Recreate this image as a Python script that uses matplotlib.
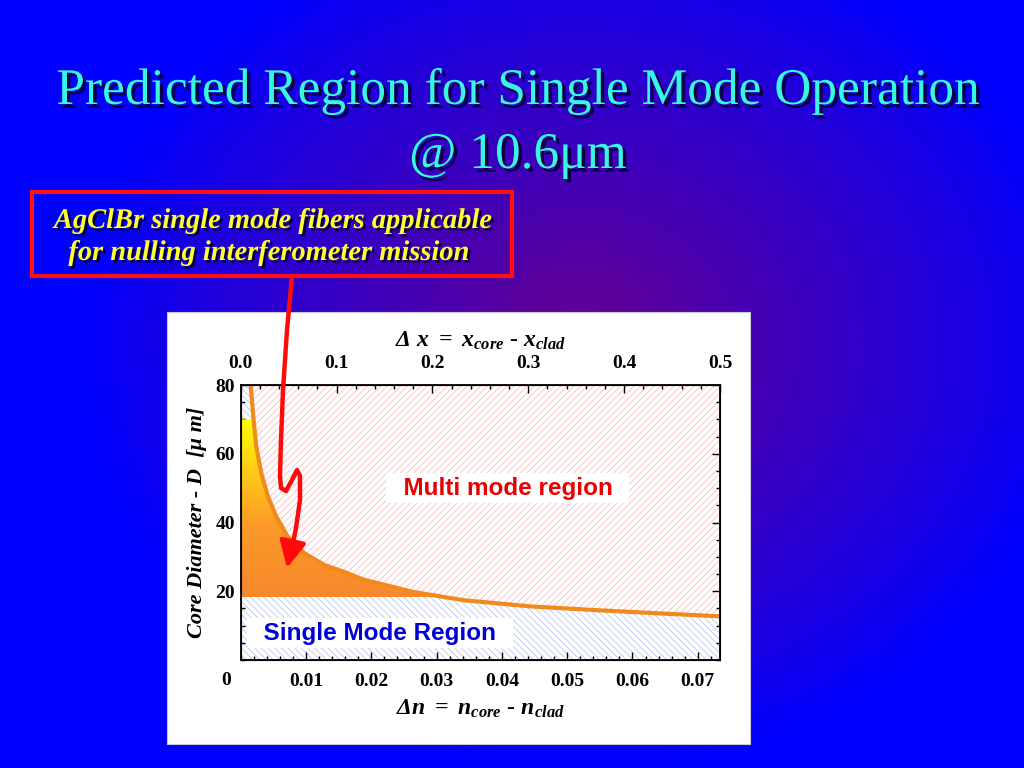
import matplotlib as mpl
import matplotlib.pyplot as plt
import matplotlib.patheffects as pe
from matplotlib.patches import Rectangle
from matplotlib.colors import LinearSegmentedColormap
from matplotlib.ticker import MultipleLocator
import numpy as np

plt.rcParams['font.family'] = ['Liberation Serif', 'DejaVu Serif']
plt.rcParams['mathtext.fontset'] = 'custom'
plt.rcParams['mathtext.rm'] = 'Liberation Serif:italic:bold'
plt.rcParams['mathtext.it'] = 'Liberation Serif:italic:bold'
plt.rcParams['mathtext.bf'] = 'Liberation Serif:italic:bold'
plt.rcParams['hatch.linewidth'] = 0.5

# single mode cutoff curve (delta n vs core diameter in um)
delta_n = [0.00153, 0.00188, 0.00239, 0.00316, 0.00418, 0.00545, 0.00724, 0.0098,
           0.01286, 0.0159, 0.01878, 0.02643, 0.0341, 0.0443, 0.0545, 0.0647, 0.0734]
diameter = [80, 71.8, 62, 54.3, 47.5, 41.7, 35.8, 31.0,
            27.6, 25.6, 23.4, 19.8, 17.4, 15.6, 14.5, 13.5, 12.7]

# highlighted (applicable) region limits
fill_top = 70
fill_bottom = 18.2

dn_max = 0.0734
dx_max = 0.5
d_max = 80

dn_ticks = [0.01, 0.02, 0.03, 0.04, 0.05, 0.06, 0.07]
dx_ticks = [0.0, 0.1, 0.2, 0.3, 0.4, 0.5]
d_ticks = [20, 40, 60, 80]

title_lines = ["Predicted Region for Single Mode Operation", "@ 10.6\u03bcm"]
callout_lines = ["AgClBr single mode fibers applicable", "for nulling interferometer mission"]

W, H = 1024, 768
fig = plt.figure(figsize=(W / 100, H / 100), dpi=100)

# slide background: radial purple glow on blue
bg = fig.add_axes([0, 0, 1, 1], zorder=-2)
yy, xx = np.mgrid[0:H, 0:W]
r = np.sqrt(((xx - 580) / 500.0) ** 2 + ((yy - 340) / 430.0) ** 2)
t = np.clip(1 - r, 0, 1) ** 0.9
blue = np.array([0.0, 0.0, 1.0])
purple = np.array([0.40, 0.0, 0.56])
img = blue[None, None, :] * (1 - t[..., None]) + purple[None, None, :] * t[..., None]
bg.imshow(img, extent=(0, W, H, 0), aspect='auto', interpolation='bilinear')
bg.set_xlim(0, W)
bg.set_ylim(H, 0)
bg.axis('off')

shadow = [pe.SimplePatchShadow(offset=(2.5, -2.5), shadow_rgbFace='#000030', alpha=0.85), pe.Normal()]
bg.text(518, 104, title_lines[0], ha='center', va='baseline', fontsize=37,
        color='#38f6e2', path_effects=shadow)
bg.text(518, 168, title_lines[1], ha='center', va='baseline', fontsize=37,
        color='#38f6e2', path_effects=shadow)

bg.add_patch(Rectangle((32, 192), 480, 84, facecolor='none', edgecolor='#ff1010', linewidth=3))
shadow_small = [pe.SimplePatchShadow(offset=(1.8, -1.8), shadow_rgbFace='#000020', alpha=0.85), pe.Normal()]
bg.text(273, 228, callout_lines[0], ha='center', va='baseline', fontsize=20.5,
        fontweight='bold', fontstyle='italic', color='#ffff30', path_effects=shadow_small)
bg.text(269, 260, callout_lines[1], ha='center', va='baseline', fontsize=20.5,
        fontweight='bold', fontstyle='italic', color='#ffff30', path_effects=shadow_small)

# white panel behind the plot
bg.add_patch(Rectangle((167, 312), 583, 432, facecolor='white', edgecolor='#c8c8d8', linewidth=0.8))

ax = fig.add_axes([240.7 / W, 1 - 660 / H, (720 - 240.7) / W, (660 - 385) / H])
ax.set_facecolor('white')

x_lo = np.concatenate([[0], delta_n])
y_lo = np.concatenate([[d_max], diameter])
ax.fill_between(x_lo, 0, y_lo, facecolor='white', edgecolor='#aabcee', hatch='\\' * 5, linewidth=0, zorder=1)
ax.fill_between(delta_n, diameter, d_max, facecolor='white', edgecolor='#f4b0b0', hatch='/' * 5, linewidth=0, zorder=1)

top = np.minimum(y_lo, fill_top)
poly = ax.fill_between(x_lo, fill_bottom, top, where=top >= fill_bottom, interpolate=True,
                       facecolor='none', edgecolor='none')
cmap = LinearSegmentedColormap.from_list('fill', [(0, '#f7882e'), (0.4, '#fb9a28'), (0.72, '#ffcf18'), (1, '#ffff00')])
grad = np.linspace(0, 1, 256).reshape(-1, 1)
im = ax.imshow(grad, extent=(0, dn_max, fill_bottom, fill_top), origin='lower', aspect='auto',
               cmap=cmap, zorder=2, interpolation='bilinear')
im.set_clip_path(poly.get_paths()[0], transform=ax.transData)

ax.plot(delta_n, diameter, color='#f08a1c', linewidth=3.0, zorder=3)

ax.text(0.0409, 50, "  Multi mode region  ", ha='center', va='center', fontsize=17.5,
        fontfamily='Liberation Sans', fontweight='bold', color='#e80000', zorder=4,
        bbox=dict(boxstyle='square,pad=0.14', facecolor='white', edgecolor='none'))
ax.text(0.0213, 7.8, "  Single Mode Region  ", ha='center', va='center', fontsize=17.5,
        fontfamily='Liberation Sans', fontweight='bold', color='#0000d8', zorder=4,
        bbox=dict(boxstyle='square,pad=0.14', facecolor='white', edgecolor='none'))

ax.set_xlim(0, dn_max)
ax.set_ylim(0, d_max)
ax.set_xticks(dn_ticks)
ax.set_xticklabels([f"{v:.2f}" for v in dn_ticks])
ax.set_yticks(d_ticks)
ax.xaxis.set_minor_locator(MultipleLocator(0.002))
ax.yaxis.set_minor_locator(MultipleLocator(5))
ax.tick_params(which='both', direction='in', top=False, right=True, labelsize=14, width=1)
ax.tick_params(which='major', length=6)
ax.tick_params(which='minor', length=3)
ax.tick_params(axis='x', pad=9)
ax.tick_params(axis='y', pad=4)
for lab in ax.get_xticklabels() + ax.get_yticklabels():
    lab.set_fontweight('bold')
for s in ax.spines.values():
    s.set_linewidth(1.3)
    s.set_zorder(5)

ax.text(-0.031, -0.073, "0", transform=ax.transAxes, ha='center', va='center', fontsize=14, fontweight='bold')

ax.set_xlabel(r'$\Delta n\ =\ n_{core}\ $-$\ n_{clad}$', fontsize=17, labelpad=6)
ax.set_ylabel("Core Diameter - D  [\u03bc m]", fontsize=16, fontstyle='italic', fontweight='bold', labelpad=6)

ax2 = ax.twiny()
ax2.set_xlim(0, dx_max)
ax2.set_xticks(dx_ticks)
ax2.set_xticklabels([f"{v:.1f}" for v in dx_ticks])
ax2.xaxis.set_minor_locator(MultipleLocator(0.02))
ax2.tick_params(which='both', direction='in', labelsize=14, width=1, pad=9)
ax2.tick_params(which='major', length=6)
ax2.tick_params(which='minor', length=3)
for lab in ax2.get_xticklabels():
    lab.set_fontweight('bold')
ax2.set_xlabel(r'$\Delta\ x\ =\ x_{core}\ $-$\ x_{clad}$', fontsize=17, labelpad=6)

# red arrow from the callout box into the applicable region
ov = fig.add_axes([0, 0, 1, 1], zorder=5)
ov.set_facecolor('none')
ov.set_xlim(0, W)
ov.set_ylim(H, 0)
ov.axis('off')
arrow_x = [292, 287, 283, 281, 280, 281, 286, 292, 297, 300, 300, 296, 292]
arrow_y = [276, 330, 390, 440, 476, 488, 491, 480, 470, 476, 500, 528, 548]
ov.plot(arrow_x, arrow_y, color='#ff0a0a', linewidth=3.2, solid_capstyle='round', solid_joinstyle='round')
ov.annotate('', xy=(287, 568), xytext=(292, 545),
            arrowprops=dict(arrowstyle='-|>,head_length=0.8,head_width=0.4', color='#ff0a0a',
                            lw=3.2, shrinkA=0, shrinkB=0, mutation_scale=20))

fig.savefig('out.png', dpi=100)
